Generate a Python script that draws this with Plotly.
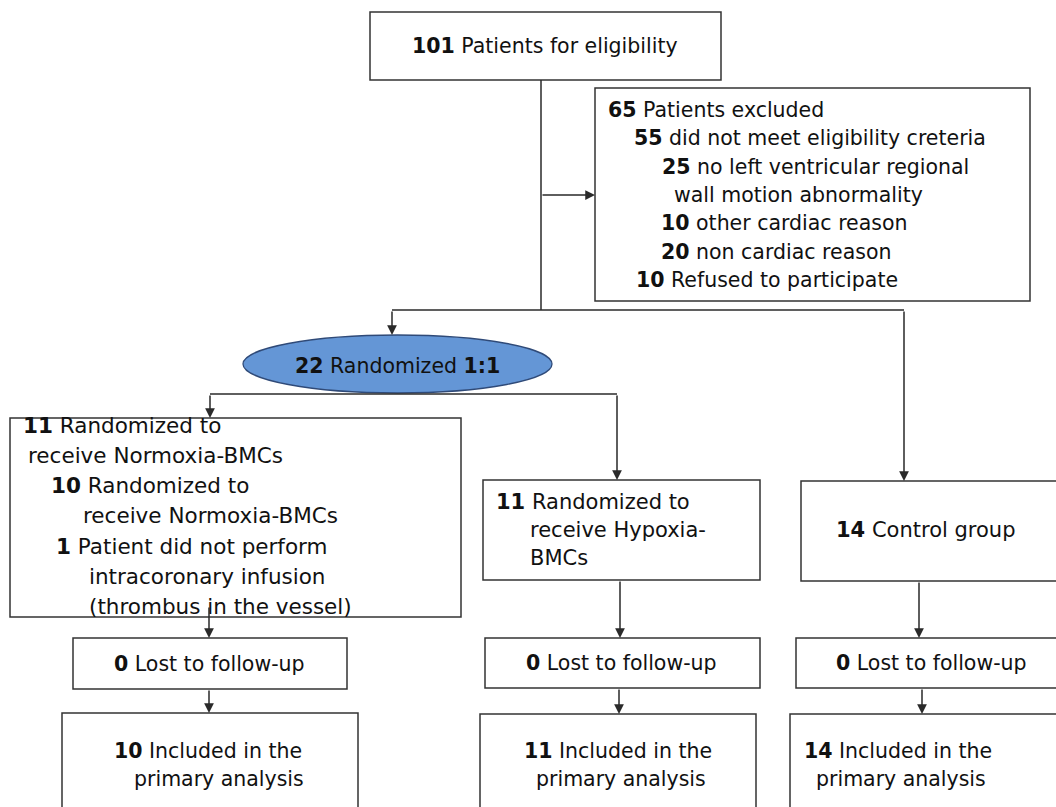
import plotly.graph_objects as go

# ---------------- data ----------------
screened_n = 101
screened_label = "Patients for eligibility"

excluded_counts = [65, 55, 25, None, 10, 20, 10]
excluded_labels = ["Patients excluded", "did not meet eligibility creteria",
                   "no left ventricular regional", "wall motion abnormality",
                   "other cardiac reason", "non cardiac reason",
                   "Refused to participate"]

randomized_n = 22
randomized_ratio = "1:1"

normoxia_counts = [11, None, 10, None, 1, None, None]
normoxia_labels = ["Randomized to", "receive Normoxia-BMCs", "Randomized to",
                   "receive Normoxia-BMCs", "Patient did not perform",
                   "intracoronary infusion", "(thrombus in the vessel)"]

hypoxia_counts = [11, None, None]
hypoxia_labels = ["Randomized to", "receive Hypoxia-", "BMCs"]

control_n = 14
control_label = "Control group"

lost_counts = [0, 0, 0]
lost_label = "Lost to follow-up"

included_counts = [10, 11, 14]
included_labels = ["Included in the", "primary analysis"]

# ---------------- style ----------------
FONT = "DejaVu Sans"
TXT = "#111111"
LINE = "#2a2a2a"

fig = go.Figure()
shapes = []
annotations = []


def box(x0, y0, x1, y1, color="#333333", w=1.5):
    shapes.append(dict(type="rect", xref="x", yref="y", x0=x0, y0=y0, x1=x1, y1=y1,
                       line=dict(color=color, width=w), fillcolor="rgba(0,0,0,0)"))


def seg(x0, y0, x1, y1):
    shapes.append(dict(type="line", xref="x", yref="y", x0=x0, y0=y0, x1=x1, y1=y1,
                       line=dict(color=LINE, width=1.5)))


def arrow(x0, y0, x1, y1):
    annotations.append(dict(x=x1, y=y1, ax=x0, ay=y0, xref="x", yref="y",
                            axref="x", ayref="y", text="", showarrow=True,
                            arrowhead=2, arrowsize=1.3, arrowwidth=1.5,
                            arrowcolor=LINE, standoff=0))


def label(x, y, count, text, size=20.5, anchor="left"):
    s = (f"<b>{count}</b> {text}" if count is not None else text)
    annotations.append(dict(x=x, y=y, xref="x", yref="y", text=s, showarrow=False,
                            xanchor=anchor, yanchor="middle", borderpad=0,
                            font=dict(family=FONT, size=size, color=TXT)))


# top box
box(370, 12, 721, 80)
label(545, 46, screened_n, screened_label, anchor="center")

# exclusion box
box(595, 88, 1030, 301)
ex_x = [607, 633, 661, 673, 660, 660, 635]
for i, (c, t) in enumerate(zip(excluded_counts, excluded_labels)):
    label(ex_x[i], 110 + 28.3 * i, c, t)

# connectors from top
seg(541, 80, 541, 310)
arrow(541, 195, 595, 195)
seg(392, 310, 904, 310)
arrow(392, 310, 392, 335)
arrow(904, 310, 904, 481)

# ellipse
shapes.append(dict(type="circle", xref="x", yref="y", x0=243, y0=335, x1=552, y1=393,
                   fillcolor="#6496D6", line=dict(color="#2F4A78", width=1.3)))
label(397, 366, randomized_n, "Randomized <b>" + randomized_ratio + "</b>", anchor="center")

seg(210, 394, 617, 394)
arrow(210, 394, 210, 418)
arrow(617, 394, 617, 480)

# normoxia box
box(10, 418, 461, 617)
nx_x = [22, 27, 50, 82, 55, 88, 88]
for i, (c, t) in enumerate(zip(normoxia_counts, normoxia_labels)):
    label(nx_x[i], 425 + 30.3 * i, c, t, size=21.5)

# hypoxia box
box(483, 480, 760, 580)
hx_x = [495, 529, 529]
for i, (c, t) in enumerate(zip(hypoxia_counts, hypoxia_labels)):
    label(hx_x[i], 502 + 28 * i, c, t, size=21)

# control box
box(801, 481, 1062, 581)
label(835, 530, control_n, control_label, size=21)

# lost boxes
lost_boxes = [(73, 638, 347, 689), (485, 638, 760, 688), (796, 638, 1062, 688)]
lost_cx = [209, 621, 931]
for (x0, y0, x1, y1), cx, n in zip(lost_boxes, lost_cx, lost_counts):
    box(x0, y0, x1, y1)
    label(cx, (y0 + y1) / 2, n, lost_label, anchor="center")

arrow(209, 606, 209, 638)
arrow(620, 580, 620, 638)
arrow(919, 581, 919, 638)

arrow(209, 689, 209, 713)
arrow(619, 688, 619, 714)
arrow(922, 688, 922, 714)

# included boxes
inc_boxes = [(62, 713, 358, 830), (480, 714, 756, 830), (790, 714, 1062, 830)]
inc_x1 = [113, 523, 803]
inc_x2 = [133, 535, 815]
for (x0, y0, x1, y1), a, b, n in zip(inc_boxes, inc_x1, inc_x2, included_counts):
    box(x0, y0, x1, y1)
    label(a, 751, n, included_labels[0])
    label(b, 779, None, included_labels[1])

fig.update_layout(
    width=1056, height=807,
    margin=dict(l=0, r=0, t=0, b=0),
    paper_bgcolor="white", plot_bgcolor="white",
    xaxis=dict(range=[0, 1056], visible=False, showgrid=False, zeroline=False, fixedrange=True),
    yaxis=dict(range=[807, 0], visible=False, showgrid=False, zeroline=False, fixedrange=True),
    shapes=shapes, annotations=annotations, showlegend=False,
)

fig.write_html("out.html", config={"displayModeBar": False},
               post_script="document.body.style.margin='0';document.body.style.overflow='hidden';")
